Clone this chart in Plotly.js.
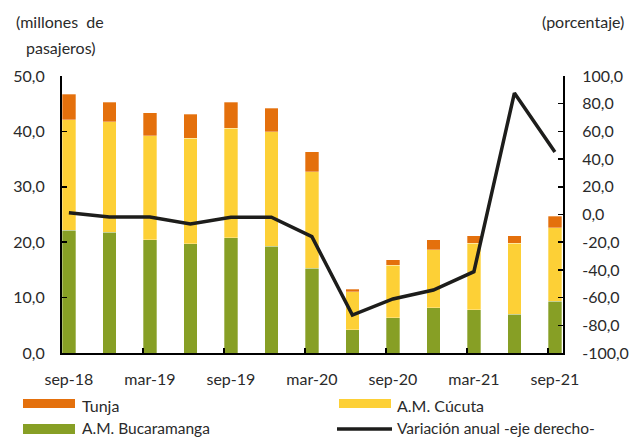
<!DOCTYPE html>
<html>
<head>
<meta charset="utf-8">
<script src="https://cdn.plot.ly/plotly-3.0.1.min.js"></script>
<style>html,body{margin:0;padding:0;background:#fff;}#chart{width:635px;height:438px;}</style>
</head>
<body>
<div id="chart"></div>
<script>
const categories = ['sep-18','dic-18','mar-19','jun-19','sep-19','dic-19','mar-20','jun-20','sep-20','dic-20','mar-21','jun-21','sep-21'];
const bucaramanga = [22.2, 21.8, 20.4, 19.7, 20.8, 19.3, 15.3, 4.2, 6.4, 8.2, 7.8, 7.0, 9.3];
const cucuta      = [19.9, 19.9, 18.8, 19.1, 19.8, 20.6, 17.4, 6.9, 9.4, 10.4, 12.0, 12.8, 13.3];
const tunja       = [4.6, 3.6, 4.2, 4.3, 4.7, 4.3, 3.6, 0.4, 1.0, 1.8, 1.4, 1.4, 2.1];
const variacion   = [1.3, -1.8, -1.8, -6.9, -2.0, -2.0, -16.0, -72.6, -61.0, -54.5, -41.3, 87.7, 45.1];
const xTickLabels = ['sep-18','mar-19','sep-19','mar-20','sep-20','mar-21','sep-21'];
const rightTickVals = [-100,-80,-60,-40,-20,0,20,40,60,80,100];
const rightTickText = ['-100,0','-80,0','-60,0','-40,0','-20,0','0,0','20,0','40,0','60,0','80,0','100,0'];

const C_ORANGE = '#E4700C', C_YELLOW = '#FDD036', C_GREEN = '#879F25', C_LINE = '#1d1d1b';
const FONT = 'Lato, "Open Sans", sans-serif';
const TXT = '#2a2a2a';
const BW = 0.33;
const idx = categories.map((c, i) => i);
const barLine = {color: 'rgba(255,255,255,0.5)', width: 0.6};

const traces = [
  {type: 'bar', name: 'A.M. Bucaramanga', x: categories, y: bucaramanga, width: BW,
   marker: {color: C_GREEN, line: barLine}, xaxis: 'x', yaxis: 'y'},
  {type: 'bar', name: 'A.M. Cúcuta', x: categories, y: cucuta, width: BW,
   marker: {color: C_YELLOW, line: barLine}, xaxis: 'x', yaxis: 'y'},
  {type: 'bar', name: 'Tunja', x: categories, y: tunja, width: BW,
   marker: {color: C_ORANGE, line: barLine}, xaxis: 'x', yaxis: 'y'},
  {type: 'scatter', mode: 'lines', name: 'Variación anual -eje derecho-', x: idx, y: variacion,
   line: {color: C_LINE, width: 3.5}, xaxis: 'x2', yaxis: 'y2'}
];

const L = 62, R = 563, T = 76, B = 353;
const px = v => (v - L) / (R - L);
const py = v => (B - v) / (B - T);
const XR = [-0.17, 12.2];

const shapes = [
  {type: 'rect', xref: 'paper', yref: 'paper', x0: px(23), x1: px(75), y0: py(408), y1: py(399), fillcolor: C_ORANGE, line: {width: 0}},
  {type: 'rect', xref: 'paper', yref: 'paper', x0: px(339), x1: px(391), y0: py(408), y1: py(399), fillcolor: C_YELLOW, line: {width: 0}},
  {type: 'rect', xref: 'paper', yref: 'paper', x0: px(23), x1: px(75), y0: py(434), y1: py(424), fillcolor: C_GREEN, line: {width: 0}},
  {type: 'line', xref: 'paper', yref: 'paper', x0: px(337), x1: px(392), y0: py(429), y1: py(429), line: {color: C_LINE, width: 3.5}}
];

const ann = (text, x, y, xanchor, size) => ({text, xref: 'paper', yref: 'paper', x: px(x), y: py(y),
  xanchor: xanchor || 'left', yanchor: 'middle', showarrow: false, font: {family: FONT, size: size || 16, color: TXT}});

const annotations = [
  ann('(millones  de', 60, 22, 'center'),
  ann('pasajeros)', 61, 47, 'center'),
  ann('(porcentaje)', 583, 22, 'center'),
  ann('Tunja', 80, 405),
  ann('A.M. Cúcuta', 395, 405),
  ann('A.M. Bucaramanga', 80, 428, 'left', 15.5),
  ann('Variación anual -eje derecho-', 395, 428, 'left', 15.5)
];

const layout = {
  width: 635, height: 438,
  margin: {l: L, r: 635 - R, t: T, b: 438 - B, pad: 0},
  paper_bgcolor: '#fff', plot_bgcolor: '#fff',
  barmode: 'stack', showlegend: false, separators: ',.',
  font: {family: FONT, size: 16, color: TXT},
  xaxis: {type: 'category', range: XR, tickmode: 'array', tickvals: xTickLabels, ticktext: xTickLabels,
    ticks: '', showgrid: false, zeroline: false, showline: true, linecolor: '#000', linewidth: 2,
    ticklabelstandoff: 11, tickfont: {family: FONT, size: 16, color: TXT}, fixedrange: true},
  xaxis2: {type: 'linear', overlaying: 'x', anchor: 'y', range: XR, tickmode: 'array',
    tickvals: [1.83, 3.83, 5.83, 7.83, 9.83, 11.83], showticklabels: false,
    ticks: 'inside', ticklen: 5, tickwidth: 1.5, tickcolor: '#000', showgrid: false, zeroline: false, showline: false},
  yaxis: {range: [0, 50], dtick: 10, tickformat: '.1f', ticks: 'inside', ticklen: 5, tickwidth: 1.5, tickcolor: '#000',
    showgrid: false, zeroline: false, showline: true, linecolor: '#000', linewidth: 2,
    ticklabelstandoff: 12, tickfont: {family: FONT, size: 16, color: TXT}},
  yaxis2: {range: [-100, 100], overlaying: 'y', side: 'right', anchor: 'x2', tickmode: 'array',
    tickvals: rightTickVals, ticktext: rightTickText, ticks: 'inside', ticklen: 5, tickwidth: 1.5, tickcolor: '#000',
    showgrid: false, zeroline: false, showline: true, linecolor: '#000', linewidth: 2,
    ticklabelstandoff: 14, tickfont: {family: FONT, size: 16, color: TXT}},
  shapes, annotations
};

Plotly.newPlot('chart', traces, layout, {displayModeBar: false, staticPlot: true});
</script>
</body>
</html>
